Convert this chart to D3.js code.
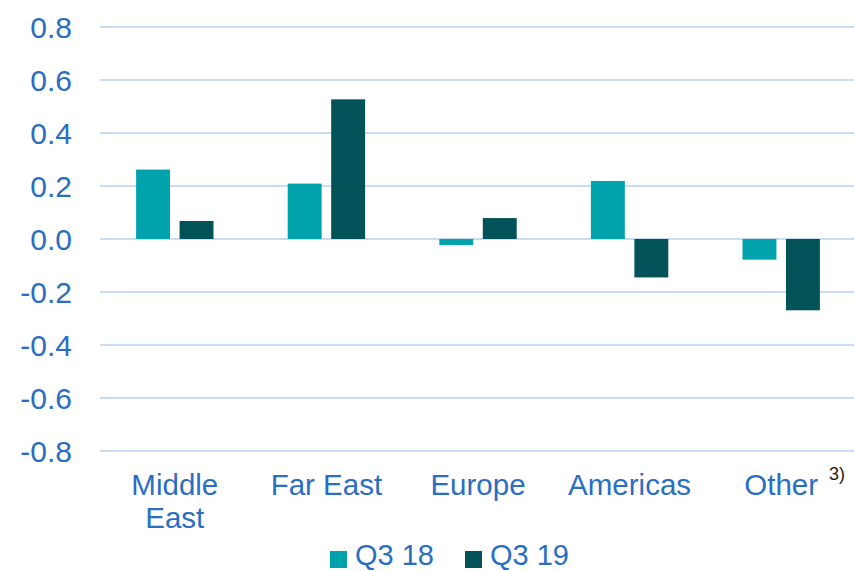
<!DOCTYPE html>
<html>
<head>
<meta charset="utf-8">
<script src="https://cdn.jsdelivr.net/npm/d3@7"></script>
<style>
  html, body { margin: 0; padding: 0; background: #fff; }
  svg { display: block; font-family: "Liberation Sans", Arial, sans-serif; }
</style>
</head>
<body>
<svg id="chart" width="854" height="571"></svg>
<script>
const categories = [["Middle", "East"], ["Far East"], ["Europe"], ["Americas"], ["Other"]];
const categoryKeys = ["Middle East", "Far East", "Europe", "Americas", "Other"];
const seriesNames = ["Q3 18", "Q3 19"];
const q318 = [0.262, 0.209, -0.023, 0.219, -0.078];
const q319 = [0.068, 0.527, 0.079, -0.145, -0.269];
const yTicks = [0.8, 0.6, 0.4, 0.2, 0.0, -0.2, -0.4, -0.6, -0.8];
const colors = ["#00A3AC", "#025357"];
const textColor = "#2A6EC2";

const svg = d3.select("#chart");
const y = d3.scaleLinear().domain([-0.8, 0.8]).range([451, 27]);
const x0 = d3.scaleBand().domain(categoryKeys).range([99, 857]).paddingInner(0).paddingOuter(0);
const half = 38.7;
const x1 = d3.scaleBand().domain(seriesNames)
  .range([x0.bandwidth()/2 - half, x0.bandwidth()/2 + half]).paddingInner(0.22).paddingOuter(0);
const series = [q318, q319];

// gridlines
svg.append("g").selectAll("line").data(yTicks).join("line")
  .attr("x1", 100).attr("x2", 854)
  .attr("y1", d => y(d)).attr("y2", d => y(d))
  .attr("stroke", "#C9DCF3").attr("stroke-width", 2);

// y axis labels
const yAxis = d3.axisLeft(y).tickValues(yTicks).tickSize(0).tickPadding(0);
const yg = svg.append("g").attr("transform", "translate(72,0)").call(yAxis);
yg.select(".domain").remove();
yg.selectAll("text").attr("fill", textColor).style("font-size", "30px")
  .attr("dy", "0.36em")
  .text(d => d3.format(".1f")(d).replace("−", "-"));

// bars
const groups = svg.append("g").selectAll("g").data(categoryKeys).join("g")
  .attr("transform", d => `translate(${x0(d)},0)`);
groups.selectAll("rect").data((d, i) => seriesNames.map((s, j) => ({s, v: series[j][i], j})))
  .join("rect")
  .attr("x", d => x1(d.s))
  .attr("width", x1.bandwidth())
  .attr("y", d => Math.min(y(d.v), y(0)))
  .attr("height", d => Math.abs(y(d.v) - y(0)))
  .attr("fill", d => colors[d.j]);

// category labels
const labels = svg.append("g").selectAll("text").data(categoryKeys).join("text")
  .attr("x", d => x0(d) + x0.bandwidth()/2)
  .attr("y", 495)
  .attr("text-anchor", "middle")
  .attr("fill", textColor)
  .style("font-size", "29.5px");
labels.each(function(d, i) {
  const t = d3.select(this);
  categories[i].forEach((line, k) => {
    t.append("tspan").attr("x", x0(d) + x0.bandwidth()/2).attr("dy", k === 0 ? 0 : 33).text(line);
  });
});
svg.append("text").attr("x", 829).attr("y", 480).attr("fill", "#222")
  .style("font-size", "18px").text("3)");

// legend
const legendItems = [{name: seriesNames[0], x: 330}, {name: seriesNames[1], x: 465}];
const lg = svg.append("g").selectAll("g").data(legendItems).join("g")
  .attr("transform", d => `translate(${d.x},0)`);
lg.append("rect").attr("x", 0).attr("y", 551).attr("width", 17).attr("height", 17)
  .attr("fill", (d, i) => colors[i]);
lg.append("text").attr("x", 25).attr("y", 565).attr("fill", textColor)
  .style("font-size", "29px").text(d => d.name);
</script>
</body>
</html>
